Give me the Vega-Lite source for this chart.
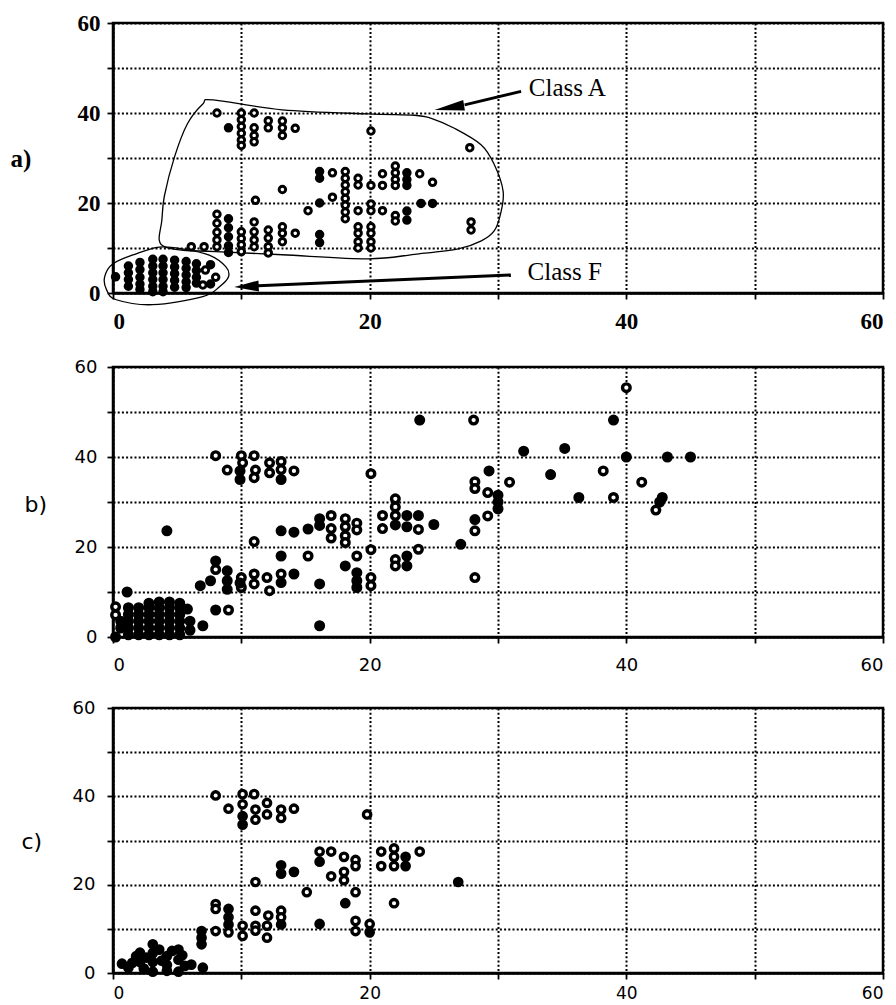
{
  "$schema": "https://vega.github.io/schema/vega-lite/v6.json",
  "background": "white",
  "padding": {"left": 8, "top": 10, "right": 10, "bottom": 0},
  "spacing": 21,
  "config": {
    "view": {"stroke": "black", "strokeWidth": 2.5},
    "axis": {"domainColor": "black", "domainWidth": 2.5, "tickColor": "black", "tickWidth": 1.8, "tickSize": 6, "grid": true, "gridColor": "black", "gridDash": [2, 2.2], "gridWidth": 2, "gridOpacity": 1, "labelColor": "black", "titleColor": "black", "labelOverlap": false}
  },
  "datasets": {
    "pa": [
      {"x":8.1,"y":40,"k":"o"},{"x":10,"y":40,"k":"o"},{"x":10,"y":38.5,"k":"o"},{"x":10,"y":37,"k":"o"},{"x":10,"y":35.5,"k":"o"},{"x":10,"y":34,"k":"o"},{"x":10,"y":32.8,"k":"o"},
      {"x":11,"y":40,"k":"o"},{"x":11,"y":36.7,"k":"o"},{"x":11,"y":35,"k":"o"},{"x":11,"y":33.6,"k":"o"},{"x":12.1,"y":38.3,"k":"o"},{"x":12.1,"y":36.7,"k":"o"},
      {"x":13.2,"y":38.2,"k":"o"},{"x":13.2,"y":36.7,"k":"o"},{"x":13.2,"y":35,"k":"o"},{"x":14.2,"y":36.6,"k":"o"},{"x":20.1,"y":36,"k":"o"},{"x":27.8,"y":32.3,"k":"o"},
      {"x":13.2,"y":23,"k":"o"},{"x":11.1,"y":20.6,"k":"o"},{"x":15.2,"y":18.3,"k":"o"},{"x":17.1,"y":21.3,"k":"o"},{"x":17.1,"y":26.7,"k":"o"},
      {"x":18.1,"y":27,"k":"o"},{"x":18.1,"y":25.5,"k":"o"},{"x":18.1,"y":24,"k":"o"},{"x":18.1,"y":22.5,"k":"o"},{"x":18.1,"y":21,"k":"o"},{"x":18.1,"y":19.5,"k":"o"},{"x":18.1,"y":18,"k":"o"},{"x":18.1,"y":16.5,"k":"o"},
      {"x":19.1,"y":25.5,"k":"o"},{"x":19.1,"y":24,"k":"o"},{"x":19.1,"y":18.3,"k":"o"},{"x":20.1,"y":23.9,"k":"o"},{"x":20.1,"y":19.8,"k":"o"},{"x":20.1,"y":18.3,"k":"o"},
      {"x":21,"y":26.5,"k":"o"},{"x":21,"y":23.9,"k":"o"},{"x":21,"y":18.3,"k":"o"},{"x":22,"y":28.2,"k":"o"},{"x":22,"y":26.7,"k":"o"},{"x":22,"y":25.2,"k":"o"},{"x":22,"y":23.9,"k":"o"},{"x":22,"y":17.2,"k":"o"},{"x":22,"y":16,"k":"o"},
      {"x":23.9,"y":26.5,"k":"o"},{"x":24.9,"y":24.6,"k":"o"},{"x":27.9,"y":15.8,"k":"o"},{"x":27.9,"y":14,"k":"o"},
      {"x":6.1,"y":10.3,"k":"o"},{"x":7.1,"y":10.3,"k":"o"},{"x":8.1,"y":17.5,"k":"o"},{"x":8.1,"y":15.5,"k":"o"},{"x":8.1,"y":13.5,"k":"o"},{"x":8.1,"y":11.8,"k":"o"},{"x":8.1,"y":10.3,"k":"o"},
      {"x":10,"y":13.6,"k":"o"},{"x":10,"y":12.1,"k":"o"},{"x":10,"y":10.7,"k":"o"},{"x":10,"y":9.2,"k":"o"},{"x":11,"y":15.8,"k":"o"},{"x":11,"y":13.6,"k":"o"},{"x":11,"y":11.8,"k":"o"},{"x":11,"y":10.3,"k":"o"},
      {"x":12.1,"y":14,"k":"o"},{"x":12.1,"y":12.2,"k":"o"},{"x":12.1,"y":10.3,"k":"o"},{"x":12.1,"y":8.9,"k":"o"},{"x":13.2,"y":14.7,"k":"o"},{"x":13.2,"y":13.3,"k":"o"},{"x":13.2,"y":11.4,"k":"o"},{"x":14.2,"y":13.3,"k":"o"},
      {"x":19.1,"y":14.7,"k":"o"},{"x":19.1,"y":13.3,"k":"o"},{"x":19.1,"y":11.4,"k":"o"},{"x":19.1,"y":10,"k":"o"},{"x":20.1,"y":14.7,"k":"o"},{"x":20.1,"y":13.3,"k":"o"},{"x":20.1,"y":11.4,"k":"o"},{"x":20.1,"y":10,"k":"o"},
      {"x":9,"y":36.7,"k":"f"},{"x":16.1,"y":20,"k":"f"},{"x":16.1,"y":27,"k":"f"},{"x":16.1,"y":25.5,"k":"f"},{"x":22.9,"y":26.7,"k":"f"},{"x":22.9,"y":25.2,"k":"f"},{"x":22.9,"y":23.9,"k":"f"},{"x":22.9,"y":18.2,"k":"f"},{"x":22.9,"y":16.2,"k":"f"},
      {"x":24,"y":19.9,"k":"f"},{"x":24.9,"y":19.9,"k":"f"},{"x":9,"y":16.5,"k":"f"},{"x":9,"y":14.5,"k":"f"},{"x":9,"y":12.5,"k":"f"},{"x":9,"y":10.5,"k":"f"},{"x":9,"y":9,"k":"f"},{"x":16.1,"y":13,"k":"f"},{"x":16.1,"y":11.2,"k":"f"},
      {"x":0.2,"y":3.6,"k":"f"},{"x":1.2,"y":6,"k":"f"},{"x":1.2,"y":4.5,"k":"f"},{"x":1.2,"y":3,"k":"f"},{"x":1.2,"y":1.5,"k":"f"},
      {"x":2.1,"y":6.8,"k":"f"},{"x":2.1,"y":5.2,"k":"f"},{"x":2.1,"y":3.5,"k":"f"},{"x":2.1,"y":2,"k":"f"},{"x":2.1,"y":0.8,"k":"f"},
      {"x":3.1,"y":7.5,"k":"f"},{"x":3.1,"y":6,"k":"f"},{"x":3.1,"y":4.5,"k":"f"},{"x":3.1,"y":3,"k":"f"},{"x":3.1,"y":1.5,"k":"f"},{"x":3.1,"y":0.3,"k":"f"},
      {"x":3.9,"y":7.5,"k":"f"},{"x":3.9,"y":6,"k":"f"},{"x":3.9,"y":4.5,"k":"f"},{"x":3.9,"y":3,"k":"f"},{"x":3.9,"y":1.5,"k":"f"},{"x":3.9,"y":0.3,"k":"f"},
      {"x":4.8,"y":7.3,"k":"f"},{"x":4.8,"y":5.8,"k":"f"},{"x":4.8,"y":4.3,"k":"f"},{"x":4.8,"y":2.8,"k":"f"},{"x":4.8,"y":1.3,"k":"f"},
      {"x":5.7,"y":7,"k":"f"},{"x":5.7,"y":5.5,"k":"f"},{"x":5.7,"y":4,"k":"f"},{"x":5.7,"y":2.5,"k":"f"},{"x":5.7,"y":1.2,"k":"f"},
      {"x":6.5,"y":6.5,"k":"f"},{"x":6.5,"y":5,"k":"f"},{"x":6.5,"y":3.5,"k":"f"},{"x":6.5,"y":2.2,"k":"f"},{"x":7.6,"y":6.3,"k":"f"},{"x":7.6,"y":2,"k":"f"},
      {"x":7.2,"y":5.1,"k":"o"},{"x":8,"y":3.5,"k":"o"},{"x":7,"y":1.8,"k":"o"}
    ],
    "enc": [
      {"g":"A","i":0,"x":3.6,"y":11.8},{"g":"A","i":1,"x":3.8,"y":16},{"g":"A","i":2,"x":4.0,"y":21.5},{"g":"A","i":3,"x":4.8,"y":30.3},{"g":"A","i":4,"x":5.8,"y":37.6},{"g":"A","i":5,"x":7.0,"y":42},{"g":"A","i":6,"x":7.8,"y":42.9},
      {"g":"A","i":7,"x":13.2,"y":40.7},{"g":"A","i":8,"x":19.9,"y":39.8},{"g":"A","i":9,"x":23.5,"y":39.5},{"g":"A","i":10,"x":24.8,"y":38.8},{"g":"A","i":11,"x":26.6,"y":36.6},{"g":"A","i":12,"x":28.7,"y":32.9},
      {"g":"A","i":13,"x":29.7,"y":28.6},{"g":"A","i":14,"x":30.4,"y":22.6},{"g":"A","i":15,"x":30.2,"y":17.6},{"g":"A","i":16,"x":29.7,"y":13.8},{"g":"A","i":17,"x":28.7,"y":11.6},{"g":"A","i":18,"x":26.9,"y":9.8},
      {"g":"A","i":19,"x":23.5,"y":8.6},{"g":"A","i":20,"x":19.9,"y":7.6},{"g":"A","i":21,"x":13.2,"y":8.5},{"g":"A","i":22,"x":8,"y":9.2},{"g":"A","i":23,"x":5.5,"y":9.5},{"g":"A","i":24,"x":4.1,"y":10.2},
      {"g":"F","i":0,"x":-0.65,"y":3.6},{"g":"F","i":1,"x":0,"y":6.5},{"g":"F","i":2,"x":1.8,"y":8.7},{"g":"F","i":3,"x":3.6,"y":10.2},{"g":"F","i":4,"x":5.4,"y":9.8},{"g":"F","i":5,"x":7.5,"y":8.4},
      {"g":"F","i":6,"x":8.8,"y":5.8},{"g":"F","i":7,"x":9.0,"y":3.6},{"g":"F","i":8,"x":8.3,"y":1.4},{"g":"F","i":9,"x":7.0,"y":-0.8},{"g":"F","i":10,"x":3.1,"y":-2.6},{"g":"F","i":11,"x":0.26,"y":-1.5},{"g":"F","i":12,"x":-0.5,"y":0.7}
    ],
    "shaft": [
      {"g":"A","x":31.8,"y":44.8},{"g":"A","x":27.4,"y":41.8},
      {"g":"F","x":31,"y":4},{"g":"F","x":11.3,"y":1.6}
    ],
    "headA": [{"x":26.2,"y":41.2}],
    "headF": [{"x":10.4,"y":1.45}],
    "lab": [{"x":32.4,"y":45.5,"t":"Class A"},{"x":32.3,"y":4.6,"t":"Class F"}],
    "pb": [
      {"x":8,"y":40.3,"k":"o"},{"x":10,"y":40.3,"k":"o"},{"x":11,"y":40.3,"k":"o"},{"x":10.1,"y":38.7,"k":"o"},{"x":8.9,"y":37.1,"k":"o"},{"x":11.1,"y":37.1,"k":"o"},{"x":11,"y":35.4,"k":"o"},
      {"x":12.2,"y":38.7,"k":"o"},{"x":12.2,"y":36.5,"k":"o"},{"x":13.1,"y":39,"k":"o"},{"x":13.1,"y":37.2,"k":"o"},{"x":14.1,"y":36.9,"k":"o"},{"x":20.1,"y":36.3,"k":"o"},
      {"x":17,"y":27,"k":"o"},{"x":17,"y":24.1,"k":"o"},{"x":17,"y":22,"k":"o"},{"x":18.1,"y":26.3,"k":"o"},{"x":18.1,"y":24.5,"k":"o"},{"x":18.1,"y":22.5,"k":"o"},{"x":18.1,"y":21,"k":"o"},
      {"x":19,"y":25.3,"k":"o"},{"x":19,"y":23.8,"k":"o"},{"x":11,"y":21.2,"k":"o"},{"x":15.2,"y":18,"k":"o"},{"x":20.1,"y":19.4,"k":"o"},{"x":19,"y":18,"k":"o"},{"x":20.1,"y":13.2,"k":"o"},{"x":20.1,"y":11.4,"k":"o"},
      {"x":22,"y":30.7,"k":"o"},{"x":22,"y":28.9,"k":"o"},{"x":22,"y":27,"k":"o"},{"x":21,"y":27,"k":"o"},{"x":21,"y":24.1,"k":"o"},{"x":22,"y":17.2,"k":"o"},{"x":22,"y":15.8,"k":"o"},{"x":23.8,"y":19.5,"k":"o"},{"x":23.8,"y":23.9,"k":"o"},
      {"x":28.1,"y":48.2,"k":"o"},{"x":40,"y":55.4,"k":"o"},{"x":28.2,"y":34.5,"k":"o"},{"x":28.2,"y":33,"k":"o"},{"x":30.9,"y":34.4,"k":"o"},{"x":38.2,"y":36.9,"k":"o"},{"x":41.2,"y":34.4,"k":"o"},
      {"x":29.2,"y":32.1,"k":"o"},{"x":39,"y":31,"k":"o"},{"x":42.3,"y":28.2,"k":"o"},{"x":29.2,"y":26.9,"k":"o"},{"x":28.2,"y":23.6,"k":"o"},{"x":28.2,"y":13.2,"k":"o"},
      {"x":8,"y":15,"k":"o"},{"x":10,"y":13.2,"k":"o"},{"x":10,"y":11,"k":"o"},{"x":11,"y":14,"k":"o"},{"x":11,"y":11.8,"k":"o"},{"x":12,"y":13.2,"k":"o"},{"x":12.2,"y":10.3,"k":"o"},{"x":13.1,"y":14,"k":"o"},{"x":9,"y":6,"k":"o"},
      {"x":9.9,"y":36.9,"k":"f"},{"x":9.9,"y":35,"k":"f"},{"x":13.1,"y":35,"k":"f"},{"x":4.2,"y":23.6,"k":"f"},{"x":13.1,"y":23.6,"k":"f"},{"x":14.1,"y":23.3,"k":"f"},{"x":15.2,"y":24,"k":"f"},{"x":16.1,"y":26.3,"k":"f"},{"x":16.1,"y":24.8,"k":"f"},
      {"x":13.1,"y":18,"k":"f"},{"x":18.1,"y":15.8,"k":"f"},{"x":19,"y":14.3,"k":"f"},{"x":19,"y":12.5,"k":"f"},{"x":19,"y":11,"k":"f"},{"x":16.1,"y":11.8,"k":"f"},{"x":16.1,"y":2.5,"k":"f"},
      {"x":22,"y":24.9,"k":"f"},{"x":22.9,"y":27,"k":"f"},{"x":22.9,"y":24.5,"k":"f"},{"x":23.8,"y":27,"k":"f"},{"x":25,"y":25,"k":"f"},{"x":22.9,"y":18,"k":"f"},{"x":22.9,"y":15.8,"k":"f"},
      {"x":23.9,"y":48.2,"k":"f"},{"x":39,"y":48.2,"k":"f"},{"x":32,"y":41.3,"k":"f"},{"x":35.2,"y":41.9,"k":"f"},{"x":40,"y":40,"k":"f"},{"x":43.2,"y":40,"k":"f"},{"x":45,"y":40,"k":"f"},
      {"x":29.3,"y":36.9,"k":"f"},{"x":34.1,"y":36.1,"k":"f"},{"x":30,"y":31.5,"k":"f"},{"x":30,"y":30,"k":"f"},{"x":30,"y":28.5,"k":"f"},{"x":36.3,"y":31,"k":"f"},{"x":42.8,"y":31,"k":"f"},{"x":42.6,"y":30,"k":"f"},
      {"x":28.2,"y":26.1,"k":"f"},{"x":27.1,"y":20.6,"k":"f"},{"x":8,"y":16.9,"k":"f"},{"x":8.9,"y":14.7,"k":"f"},{"x":6.8,"y":11.4,"k":"f"},{"x":7.6,"y":12.5,"k":"f"},{"x":8.9,"y":12.5,"k":"f"},{"x":8.9,"y":10.6,"k":"f"},
      {"x":9.9,"y":12,"k":"f"},{"x":13.1,"y":12.1,"k":"f"},{"x":14.1,"y":14,"k":"f"},{"x":1.1,"y":10,"k":"f"},{"x":8,"y":6,"k":"f"},{"x":7,"y":2.5,"k":"f"},
      {"x":0.2,"y":0,"k":"f"},{"x":0.6,"y":2,"k":"f"},{"x":0.6,"y":3.5,"k":"f"},
      {"x":1.2,"y":0.5,"k":"f"},{"x":1.2,"y":2,"k":"f"},{"x":1.2,"y":3.5,"k":"f"},{"x":1.2,"y":5,"k":"f"},{"x":1.2,"y":6.5,"k":"f"},
      {"x":2,"y":0.5,"k":"f"},{"x":2,"y":2,"k":"f"},{"x":2,"y":3.5,"k":"f"},{"x":2,"y":5,"k":"f"},{"x":2,"y":6.5,"k":"f"},
      {"x":2.8,"y":0.5,"k":"f"},{"x":2.8,"y":2,"k":"f"},{"x":2.8,"y":3.5,"k":"f"},{"x":2.8,"y":5,"k":"f"},{"x":2.8,"y":6.5,"k":"f"},{"x":2.8,"y":7.5,"k":"f"},
      {"x":3.6,"y":0.5,"k":"f"},{"x":3.6,"y":2,"k":"f"},{"x":3.6,"y":3.5,"k":"f"},{"x":3.6,"y":5,"k":"f"},{"x":3.6,"y":6.5,"k":"f"},{"x":3.6,"y":7.8,"k":"f"},
      {"x":4.4,"y":0.5,"k":"f"},{"x":4.4,"y":2,"k":"f"},{"x":4.4,"y":3.5,"k":"f"},{"x":4.4,"y":5,"k":"f"},{"x":4.4,"y":6.5,"k":"f"},{"x":4.4,"y":7.8,"k":"f"},
      {"x":5.2,"y":0.5,"k":"f"},{"x":5.2,"y":2,"k":"f"},{"x":5.2,"y":3.5,"k":"f"},{"x":5.2,"y":5,"k":"f"},{"x":5.2,"y":6.5,"k":"f"},{"x":5.2,"y":7.5,"k":"f"},
      {"x":6,"y":1.5,"k":"f"},{"x":6,"y":3.5,"k":"f"},{"x":5.8,"y":6.2,"k":"f"},
      {"x":0.2,"y":6.7,"k":"o"},{"x":0.2,"y":4.9,"k":"o"}
    ],
    "pc": [
      {"x":8,"y":40.2,"k":"o"},{"x":10.1,"y":40.5,"k":"o"},{"x":11,"y":40.5,"k":"o"},{"x":10.1,"y":38.2,"k":"o"},{"x":9,"y":37.2,"k":"o"},{"x":11.1,"y":37,"k":"o"},{"x":12,"y":38.5,"k":"o"},
      {"x":12,"y":35.9,"k":"o"},{"x":11.1,"y":34.7,"k":"o"},{"x":13.1,"y":37,"k":"o"},{"x":13.1,"y":35.1,"k":"o"},{"x":14.1,"y":37.2,"k":"o"},{"x":19.8,"y":35.9,"k":"o"},
      {"x":11.1,"y":20.6,"k":"o"},{"x":15.1,"y":18.3,"k":"o"},{"x":16.1,"y":27.5,"k":"o"},{"x":17,"y":27.5,"k":"o"},{"x":17,"y":21.9,"k":"o"},{"x":18,"y":26.3,"k":"o"},{"x":18,"y":22.9,"k":"o"},{"x":18,"y":21,"k":"o"},
      {"x":18.9,"y":25.6,"k":"o"},{"x":18.9,"y":24.2,"k":"o"},{"x":18.9,"y":18.3,"k":"o"},{"x":20.9,"y":27.5,"k":"o"},{"x":20.9,"y":24.2,"k":"o"},{"x":21.9,"y":28.2,"k":"o"},{"x":21.9,"y":26.3,"k":"o"},{"x":21.9,"y":24.2,"k":"o"},
      {"x":23.9,"y":27.5,"k":"o"},{"x":21.9,"y":15.8,"k":"o"},
      {"x":8,"y":15.6,"k":"o"},{"x":8,"y":14.5,"k":"o"},{"x":11.1,"y":14.1,"k":"o"},{"x":12.1,"y":13,"k":"o"},{"x":13.1,"y":14.1,"k":"o"},{"x":13.1,"y":12.6,"k":"o"},{"x":10.1,"y":10.7,"k":"o"},{"x":10.1,"y":8.4,"k":"o"},
      {"x":9,"y":9.2,"k":"o"},{"x":8,"y":9.5,"k":"o"},{"x":11.1,"y":10.7,"k":"o"},{"x":11.1,"y":9.6,"k":"o"},{"x":12,"y":10.7,"k":"o"},{"x":12,"y":8,"k":"o"},{"x":18.9,"y":11.8,"k":"o"},{"x":18.9,"y":9.5,"k":"o"},{"x":20,"y":11.1,"k":"o"},
      {"x":10.1,"y":35.5,"k":"f"},{"x":10.1,"y":33.6,"k":"f"},{"x":13.1,"y":24.4,"k":"f"},{"x":13.1,"y":22.5,"k":"f"},{"x":14.1,"y":22.9,"k":"f"},{"x":16.1,"y":25.2,"k":"f"},{"x":18.1,"y":15.8,"k":"f"},
      {"x":22.8,"y":26.3,"k":"f"},{"x":22.8,"y":24.2,"k":"f"},{"x":26.9,"y":20.6,"k":"f"},{"x":9,"y":14.5,"k":"f"},{"x":9,"y":12.6,"k":"f"},{"x":9,"y":11,"k":"f"},{"x":13.1,"y":11,"k":"f"},
      {"x":6.9,"y":9.5,"k":"f"},{"x":6.9,"y":8,"k":"f"},{"x":6.9,"y":6.5,"k":"f"},{"x":16.1,"y":11.1,"k":"f"},{"x":20,"y":9.2,"k":"f"},
      {"x":0.7,"y":2.1,"k":"f"},{"x":1.2,"y":1.2,"k":"f"},{"x":1.5,"y":2.3,"k":"f"},{"x":2.1,"y":4.6,"k":"f"},{"x":2.1,"y":2.5,"k":"f"},{"x":2.4,"y":1,"k":"f"},{"x":3.1,"y":6.5,"k":"f"},{"x":3.1,"y":4.5,"k":"f"},
      {"x":3.1,"y":2.5,"k":"f"},{"x":3.1,"y":0.3,"k":"f"},{"x":3.6,"y":5.3,"k":"f"},{"x":4.2,"y":3.8,"k":"f"},{"x":4.2,"y":1.8,"k":"f"},{"x":4.2,"y":0.5,"k":"f"},{"x":5.1,"y":5.3,"k":"f"},{"x":5.1,"y":3,"k":"f"},
      {"x":5.1,"y":0.3,"k":"f"},{"x":5.6,"y":1.6,"k":"f"},{"x":6.1,"y":1.9,"k":"f"},{"x":7,"y":1.2,"k":"f"},{"x":4.6,"y":5,"k":"f"},{"x":2.6,"y":3.5,"k":"f"},{"x":1.8,"y":3.8,"k":"f"},{"x":3.8,"y":2.8,"k":"f"},{"x":5.4,"y":4,"k":"f"}
    ]
  },
  "vconcat": [
    {
      "width": 770, "height": 270,
      "encoding": {
        "x": {"field": "x", "type": "quantitative", "scale": {"domain": [0, 60], "nice": false},
          "axis": {"title": null, "values": [0,10,20,30,40,50,60], "labelExpr": "datum.value % 20 === 0 ? datum.label : ''", "labelFont": "Liberation Serif", "labelFontSize": 23, "labelFontWeight": "bold", "labelPadding": 11}},
        "y": {"field": "y", "type": "quantitative", "scale": {"domain": [0, 60], "nice": false},
          "axis": {"title": "a)", "values": [0,10,20,30,40,50,60], "labelExpr": "datum.value % 20 === 0 ? datum.label : ''", "labelFont": "Liberation Serif", "labelFontSize": 23, "labelFontWeight": "bold", "labelPadding": 7,
            "titleAngle": 0, "titleX": -103, "titleY": 135, "titleAlign": "left", "titleBaseline": "middle", "titleFont": "Liberation Serif", "titleFontSize": 25, "titleFontWeight": "bold"}}
      },
      "layer": [
        {"data": {"name": "enc"}, "mark": {"type": "line", "interpolate": "cardinal-closed", "stroke": "black", "strokeWidth": 1.3},
          "encoding": {"detail": {"field": "g"}, "order": {"field": "i", "type": "quantitative"}}},
        {"data": {"name": "shaft"}, "mark": {"type": "line", "stroke": "black", "strokeWidth": 3},
          "encoding": {"detail": {"field": "g"}}},
        {"data": {"name": "headA"}, "mark": {"type": "point", "shape": "M-1,0L1,-0.36L1,0.36Z", "size": 900, "angle": 351, "filled": true, "fill": "black", "opacity": 1, "strokeWidth": 0},
          "encoding": {}},
        {"data": {"name": "headF"}, "mark": {"type": "point", "shape": "M-1,0L1,-0.45L1,0.45Z", "size": 600, "angle": 357.5, "filled": true, "fill": "black", "opacity": 1, "strokeWidth": 0},
          "encoding": {}},
        {"data": {"name": "lab"}, "mark": {"type": "text", "align": "left", "baseline": "middle", "font": "Liberation Serif", "fontSize": 25, "color": "black"},
          "encoding": {"text": {"field": "t"}}},
        {"data": {"name": "pa"}, "mark": {"type": "point", "shape": "circle", "size": 42, "strokeWidth": 3, "stroke": "black", "opacity": 1},
          "encoding": {"fill": {"field": "k", "type": "nominal", "scale": {"domain": ["o", "f"], "range": ["white", "black"]}, "legend": null}}}
      ]
    },
    {
      "width": 770, "height": 270,
      "data": {"name": "pb"},
      "mark": {"type": "point", "shape": "circle", "size": 58, "strokeWidth": 3.4, "stroke": "black", "opacity": 1},
      "encoding": {
        "x": {"field": "x", "type": "quantitative", "scale": {"domain": [0, 60], "nice": false},
          "axis": {"title": null, "values": [0,10,20,30,40,50,60], "labelExpr": "datum.value % 20 === 0 ? datum.label : ''", "labelFont": "DejaVu Sans", "labelFontSize": 18, "labelPadding": 13}},
        "y": {"field": "y", "type": "quantitative", "scale": {"domain": [0, 60], "nice": false},
          "axis": {"title": "b)", "values": [0,10,20,30,40,50,60], "labelExpr": "datum.value % 20 === 0 ? datum.label : ''", "labelFont": "DejaVu Sans", "labelFontSize": 18, "labelPadding": 10,
            "titleAngle": 0, "titleX": -89, "titleY": 137, "titleAlign": "left", "titleBaseline": "middle", "titleFont": "DejaVu Sans", "titleFontSize": 22, "titleFontWeight": "normal"}},
        "fill": {"field": "k", "type": "nominal", "scale": {"domain": ["o", "f"], "range": ["white", "black"]}, "legend": null}
      }
    },
    {
      "width": 770, "height": 265,
      "data": {"name": "pc"},
      "mark": {"type": "point", "shape": "circle", "size": 55, "strokeWidth": 3.3, "stroke": "black", "opacity": 1},
      "encoding": {
        "x": {"field": "x", "type": "quantitative", "scale": {"domain": [0, 60], "nice": false},
          "axis": {"title": null, "values": [0,10,20,30,40,50,60], "labelExpr": "datum.value % 20 === 0 ? datum.label : ''", "labelFont": "DejaVu Sans", "labelFontSize": 17, "labelPadding": 6}},
        "y": {"field": "y", "type": "quantitative", "scale": {"domain": [0, 60], "nice": false},
          "axis": {"title": "c)", "values": [0,10,20,30,40,50,60], "labelExpr": "datum.value % 20 === 0 ? datum.label : ''", "labelFont": "DejaVu Sans", "labelFontSize": 18, "labelPadding": 12,
            "titleAngle": 0, "titleX": -92, "titleY": 133, "titleAlign": "left", "titleBaseline": "middle", "titleFont": "DejaVu Sans", "titleFontSize": 22, "titleFontWeight": "normal"}},
        "fill": {"field": "k", "type": "nominal", "scale": {"domain": ["o", "f"], "range": ["white", "black"]}, "legend": null}
      }
    }
  ]
}
